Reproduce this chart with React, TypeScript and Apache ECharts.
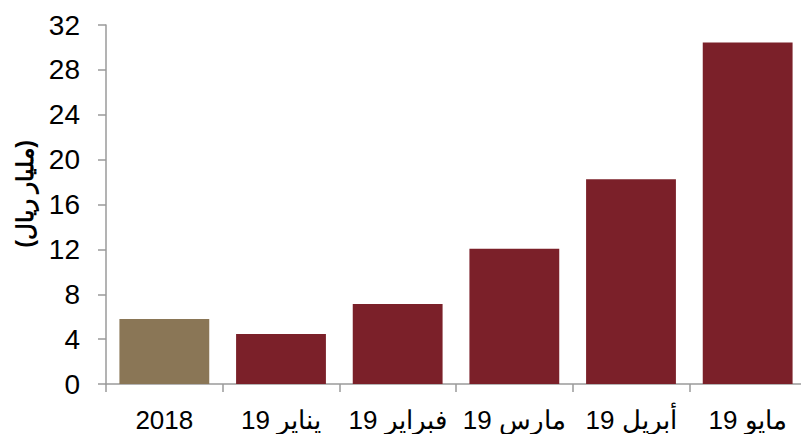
import React, { useEffect, useRef } from "react";
import * as echarts from "echarts";

const categories = ["2018", "يناير 19", "فبراير 19", "مارس 19", "أبريل 19", "مايو 19"];
const values = [5.8, 4.46, 7.13, 12.05, 18.25, 30.45];
const barColors = ["#8A7656", "#7B2029", "#7B2029", "#7B2029", "#7B2029", "#7B2029"];
const yAxisName = "(مليار ريال)";

export default function App() {
  const ref = useRef<HTMLDivElement>(null);
  useEffect(() => {
    if (!ref.current) return;
    const chart = echarts.init(ref.current, null, { renderer: "svg" });
    const font = "'Liberation Sans', Arial, sans-serif";
    chart.setOption({
      animation: false,
      grid: { left: 106, right: 0, top: 25, bottom: 50, containLabel: false },
      graphic: [
        {
          type: "text",
          x: 25,
          y: 194,
          rotation: Math.PI / 2,
          style: {
            text: yAxisName,
            fill: "#000",
            fontSize: 23,
            fontWeight: "bold",
            fontFamily: font,
            align: "center",
            verticalAlign: "middle",
          },
        },
      ],
      xAxis: {
        type: "category",
        data: categories,
        axisLine: { lineStyle: { color: "#9a9a9a", width: 1.5 } },
        axisTick: { show: true, length: 8, alignWithLabel: false, lineStyle: { color: "#9a9a9a", width: 1.5 } },
        axisLabel: { color: "#000", fontSize: 26, lineHeight: 22, fontFamily: font, margin: 25, interval: 0 },
      },
      yAxis: {
        type: "value",
        min: 0,
        max: 32,
        interval: 4,
        splitLine: { show: false },
        axisLine: { show: true, lineStyle: { color: "#9a9a9a", width: 1.5 } },
        axisTick: { show: true, length: 8, lineStyle: { color: "#9a9a9a", width: 1.5 } },
        axisLabel: { color: "#000", fontSize: 28, fontFamily: font, margin: 26 },
      },
      series: [
        {
          type: "bar",
          data: values.map((v, i) => ({ value: v, itemStyle: { color: barColors[i] } })),
          barCategoryGap: "23%",
        },
      ],
    });
    return () => chart.dispose();
  }, []);
  return (
    <div style={{ width: 801, height: 434, position: "absolute", left: 0, top: 0, overflow: "hidden" }}>
      <div ref={ref} style={{ width: 806, height: 434 }} />
    </div>
  );
}
